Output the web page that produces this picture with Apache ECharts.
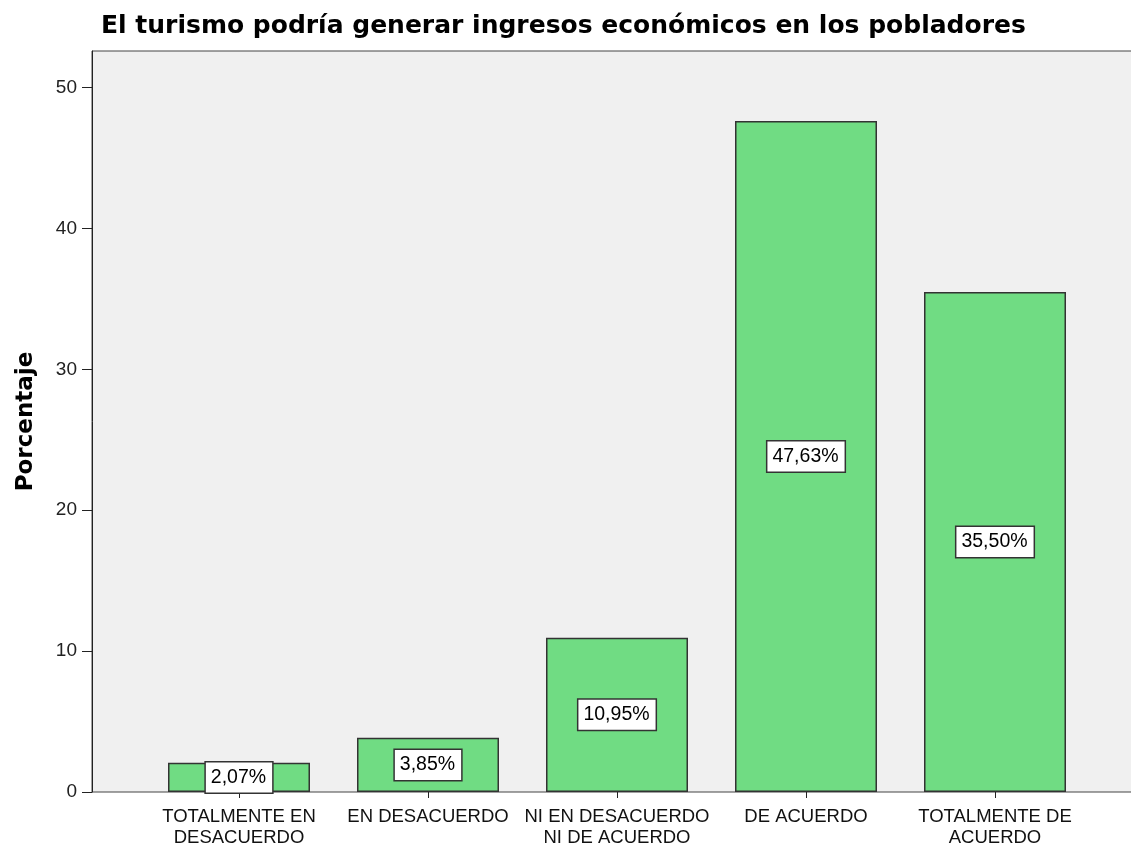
<!DOCTYPE html>
<html>
<head>
<meta charset="utf-8">
<script src="https://cdn.jsdelivr.net/npm/echarts@6/dist/echarts.min.js"></script>
<style>
  html, body { margin: 0; padding: 0; background: #fff; }
  #chart { width: 1131px; height: 846px; }
</style>
</head>
<body>
<div id="chart"></div>
<script>
// data
const categories = [
  'TOTALMENTE EN\nDESACUERDO',
  'EN DESACUERDO',
  'NI EN DESACUERDO\nNI DE ACUERDO',
  'DE ACUERDO',
  'TOTALMENTE DE\nACUERDO',
];
const percentages = [2.07, 3.85, 10.95, 47.63, 35.5];
const yTicks = [0, 10, 20, 30, 40, 50];

const yMax = 52.6;
const font = 'Liberation Sans, Arial, sans-serif';
const wideFont = 'DejaVu Sans, sans-serif';

const chart = echarts.init(document.getElementById('chart'), null, { renderer: 'canvas' });

chart.setOption({
  animation: false,
  textStyle: { fontFamily: font },
  title: {
    text: 'El turismo podría generar ingresos económicos en los pobladores',
    left: 96,
    top: 9,
    textStyle: { fontSize: 25, fontWeight: 'bold', color: '#000', fontFamily: wideFont },
  },
  grid: [
    // frame + background
    {
      left: 92, top: 51, right: -20, bottom: 54,
      outerBoundsMode: 'none',
      show: true, backgroundColor: '#f0f0f0',
      borderColor: '#444', borderWidth: 1,
    },
    // bars
    { left: 144.5, width: 945, top: 51, bottom: 54, outerBoundsMode: 'none' },
  ],
  xAxis: [
    { type: 'value', gridIndex: 0, min: 0, max: 1, show: false },
    {
      type: 'category', gridIndex: 1, data: categories,
      axisLine: { show: false },
      axisTick: { show: true, alignWithLabel: true, length: 6, lineStyle: { color: '#222' } },
      axisLabel: {
        color: '#111', fontSize: 18.5, lineHeight: 21, margin: 14,
        interval: 0, fontFamily: font,
      },
    },
  ],
  yAxis: [
    {
      type: 'value', gridIndex: 0, min: 0, max: yMax,
      name: 'Porcentaje', nameLocation: 'middle', nameGap: 54,
      nameTextStyle: { fontSize: 23, fontWeight: 'bold', color: '#000', fontFamily: wideFont },
      axisLine: { show: true, lineStyle: { color: '#222' } },
      axisTick: { show: true, length: 10, customValues: yTicks, lineStyle: { color: '#222' } },
      axisLabel: {
        color: '#222', fontSize: 19, margin: 15, fontFamily: font,
        customValues: yTicks,
      },
      splitLine: { show: false },
    },
    { type: 'value', gridIndex: 1, min: 0, max: yMax, show: false },
  ],
  series: [
    {
      type: 'bar',
      xAxisIndex: 1,
      yAxisIndex: 1,
      data: percentages,
      barWidth: 142,
      itemStyle: { color: '#70dc83', borderColor: '#333', borderWidth: 1.5 },
      label: {
        show: true,
        position: 'inside',
        formatter: (p) => p.value.toFixed(2).replace('.', ',') + '%',
        color: '#000',
        fontSize: 19.5,
        fontFamily: font,
        backgroundColor: '#fff',
        borderColor: '#333',
        borderWidth: 1.5,
        padding: [6, 6, 4, 5],
      },
    },
  ],
});

window.addEventListener('resize', () => chart.resize());
</script>
</body>
</html>
